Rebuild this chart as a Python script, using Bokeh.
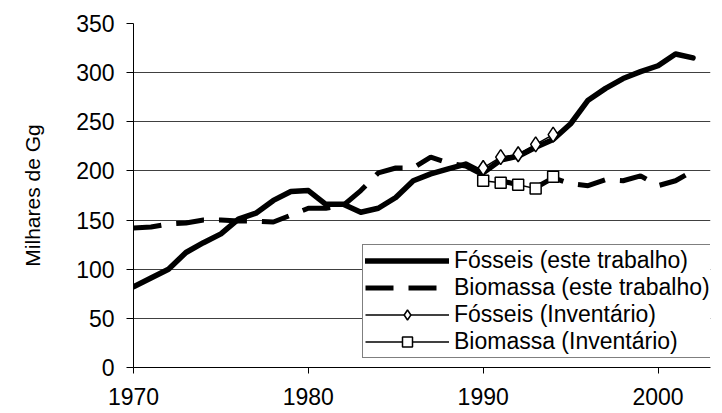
from bokeh.plotting import figure
from bokeh.models import Legend, LegendItem, FixedTicker, SingleIntervalTicker, Range1d
from bokeh.embed import file_html
from bokeh.resources import INLINE

years = list(range(1970, 2003))
fosseis_trab = [82, 91, 100, 117, 127, 136, 151, 157, 170, 179, 180, 166, 166, 158, 162, 173,
                190, 197, 202, 207, 198, 211, 215, 224, 232, 248, 272, 284, 294, 301, 307, 319, 315]
biomassa_trab = [142, 143, 146, 147, 150, 150, 149, 149, 148, 155, 162, 162, 165, 180, 198, 203,
                 203, 214, 208, 205, 196, 190, 186, 183, 193, 187, 185, 191, 190, 195, 185, 190, 200]
inv_years = [1990, 1991, 1992, 1993, 1994]
fosseis_inv = [203, 214, 217, 227, 237]
biomassa_inv = [190, 188, 186, 182, 194]

legend_labels = ["Fósseis (este trabalho)", "Biomassa (este trabalho)",
                 "Fósseis (Inventário)", "Biomassa (Inventário)"]
x_ticks = [1970, 1980, 1990, 2000]

FONT = "Liberation Sans"

p = figure(width=722, height=413, x_range=Range1d(1970, 2003), y_range=Range1d(0, 350),
           output_backend="svg", toolbar_location=None,
           min_border_left=133, min_border_right=12, min_border_top=23, min_border_bottom=46)
p.outline_line_color = None
p.background_fill_color = "white"
p.border_fill_color = "white"

r1 = p.line(years, fosseis_trab, line_color="black", line_width=5.5, line_join="round", line_cap="round")
r2 = p.line(years, biomassa_trab, line_color="black", line_width=5, line_dash="28 15")
r3 = p.line(inv_years, fosseis_inv, line_color="black", line_width=1.5)
r3m = p.scatter(inv_years, fosseis_inv, marker="diamond", size=15,
                fill_color="white", line_color="black", line_width=1.5)
r4 = p.line(inv_years, biomassa_inv, line_color="black", line_width=1.5)
r4m = p.scatter(inv_years, biomassa_inv, marker="square", size=11,
                fill_color="white", line_color="black", line_width=1.5)

p.xgrid.grid_line_color = None
p.ygrid.grid_line_color = "#404040"
p.ygrid.grid_line_width = 1

p.xaxis.ticker = FixedTicker(ticks=x_ticks, minor_ticks=[])
p.yaxis.ticker = SingleIntervalTicker(interval=50, num_minor_ticks=0)
for ax in (p.xaxis[0], p.yaxis[0]):
    ax.axis_line_color = "black"
    ax.axis_line_width = 1
    ax.major_tick_line_color = "black"
    ax.major_tick_in = 0
    ax.minor_tick_line_color = None
    ax.major_label_text_font = FONT
    ax.major_label_text_font_size = "23px"
    ax.major_label_text_color = "black"
p.xaxis.major_tick_out = 6
p.xaxis.major_label_standoff = 14
p.yaxis.major_tick_out = 7
p.yaxis.major_label_standoff = 12

p.yaxis.axis_label = "Milhares de Gg"
p.yaxis.axis_label_text_font = FONT
p.yaxis.axis_label_text_font_size = "21px"
p.yaxis.axis_label_text_font_style = "normal"
p.yaxis.axis_label_text_color = "black"
p.yaxis.axis_label_standoff = 29

legend = Legend(items=[
    LegendItem(label=legend_labels[0], renderers=[r1]),
    LegendItem(label=legend_labels[1], renderers=[r2]),
    LegendItem(label=legend_labels[2], renderers=[r3, r3m]),
    LegendItem(label=legend_labels[3], renderers=[r4, r4m]),
], location=(229, 9))
legend.margin = 0
legend.padding = 2
legend.spacing = 0
legend.glyph_width = 84
legend.glyph_height = 25
legend.label_height = 25
legend.label_standoff = 5
legend.label_text_font = FONT
legend.label_text_font_size = "23px"
legend.label_text_line_height = 1.0
legend.label_text_color = "black"
legend.border_line_color = "black"
legend.border_line_width = 1
legend.background_fill_color = "white"
legend.background_fill_alpha = 1
p.add_layout(legend)

open("out.html", "w").write(file_html(p, INLINE))
